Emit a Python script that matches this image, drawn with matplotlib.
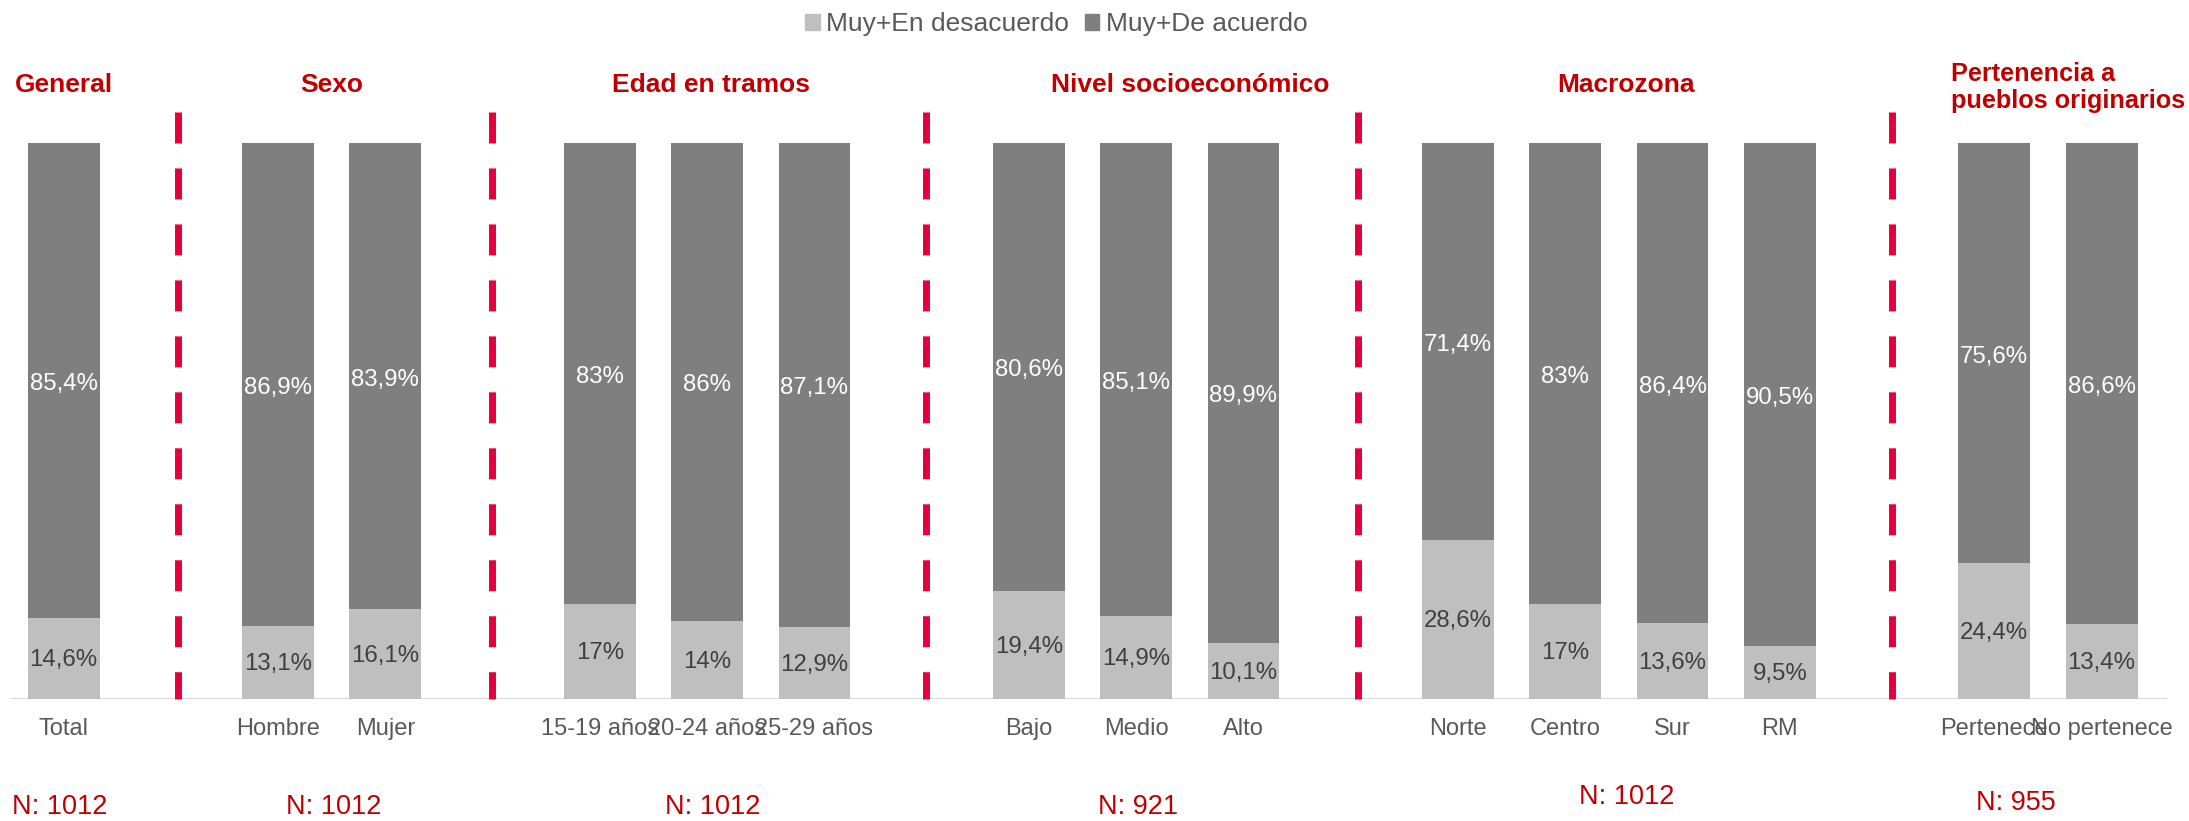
import matplotlib
matplotlib.use("Agg")
import matplotlib.pyplot as plt
from matplotlib.patches import Patch

plt.rcParams['font.family'] = ['Liberation Sans', 'DejaVu Sans']
plt.rcParams['lines.scale_dashes'] = False

# ---------------- data ----------------
groups = ["General", "Sexo", "Edad en tramos", "Nivel socioeconómico", "Macrozona",
          "Pertenencia a\npueblos originarios"]
group_sizes = [1, 2, 3, 3, 4, 2]
group_n = ["N: 1012", "N: 1012", "N: 1012", "N: 921", "N: 1012", "N: 955"]
categories = ["Total", "Hombre", "Mujer", "15-19 años", "20-24 años", "25-29 años",
              "Bajo", "Medio", "Alto", "Norte", "Centro", "Sur", "RM",
              "Pertenece", "No pertenece"]
desacuerdo = [14.6, 13.1, 16.1, 17, 14, 12.9, 19.4, 14.9, 10.1, 28.6, 17, 13.6, 9.5, 24.4, 13.4]
acuerdo = [85.4, 86.9, 83.9, 83, 86, 87.1, 80.6, 85.1, 89.9, 71.4, 83, 86.4, 90.5, 75.6, 86.6]
series_names = ["Muy+En desacuerdo", "Muy+De acuerdo"]

# ---------------- style ----------------
C_LIGHT = "#BFBFBF"
C_DARK = "#7F7F7F"
C_RED_TXT = "#C00000"
C_DIV = "#E4003B"
C_TXT = "#595959"
C_VAL_DARK = "#404040"

W, H, DPI = 2189, 821, 100
fig = plt.figure(figsize=(W / DPI, H / DPI), dpi=DPI)
ax = fig.add_axes([10 / W, 1 - 699 / H, 2157 / W, 556 / H])

# positions: one empty slot between groups
positions = []
divider_x = []
pos = 0
for gi, n in enumerate(group_sizes):
    positions.extend(range(pos, pos + n))
    pos += n
    if gi < len(group_sizes) - 1:
        divider_x.append(pos)
        pos += 1
div_adjust = [0.07, -0.01, 0.04, 0.07, 0.05]

bw = 0.67
ax.bar(positions, desacuerdo, width=bw, color=C_LIGHT, label=series_names[0])
ax.bar(positions, acuerdo, width=bw, bottom=desacuerdo, color=C_DARK, label=series_names[1])

def fmt(v):
    return f"{v:g}".replace(".", ",") + "%"

for x, d, a in zip(positions, desacuerdo, acuerdo):
    ax.text(x, d / 2 - 0.3, fmt(d), ha="center", va="center", fontsize=17.3, color=C_VAL_DARK)
    ax.text(x, d + a / 2 - 0.6, fmt(a), ha="center", va="center", fontsize=17.3, color="white")

for x, cat in zip(positions, categories):
    ax.text(x, -5.4, cat, ha="center", va="center", fontsize=17, color=C_TXT)

ax.set_xlim(-0.5, 19.61)
ax.set_ylim(0, 100)
ax.axhline(0, color="#D9D9D9", lw=1.5, zorder=0)

for dx, adj in zip(divider_x, div_adjust):
    ax.plot([dx + adj, dx + adj], [105.6, 0], color=C_DIV, lw=5,
            linestyle=(0, (22.3, 18)), clip_on=False, solid_capstyle="butt")

# headers and N labels
start = 0
header_x = []
for gi, n in enumerate(group_sizes):
    idx = positions[start:start + n]
    header_x.append((idx[0] + idx[-1]) / 2)
    start += n
header_off = [0, 0, 0.04, 0.5, 0.07, 0]
n_off = [-0.04, 0.02, 0.05, 0.02, 0.07, -0.3]
n_y = [-19.4, -19.4, -19.4, -19.4, -17.6, -18.7]
for gi, g in enumerate(groups):
    if "\n" in g:
        ax.text(17.6, 110.0, g, ha="left", va="center", fontsize=18.2, fontweight="bold",
                color=C_RED_TXT, linespacing=1.16, clip_on=False)
    else:
        ax.text(header_x[gi] + header_off[gi], 110.4, g, ha="center", va="center",
                fontsize=19, fontweight="bold", color=C_RED_TXT, clip_on=False)
    ax.text(header_x[gi] + n_off[gi], n_y[gi], group_n[gi],
            ha="center", va="center", fontsize=19.5, color=C_RED_TXT, clip_on=False)

for s in ax.spines.values():
    s.set_visible(False)
ax.set_xticks([])
ax.set_yticks([])

handles = [Patch(color=C_LIGHT), Patch(color=C_DARK)]
leg = fig.legend(handles, series_names, loc="center", bbox_to_anchor=(0.4826, 1 - 24 / H),
                 ncol=2, frameon=False, fontsize=19, handlelength=0.55, handleheight=0.55,
                 handletextpad=0.25, columnspacing=0.6, labelcolor=C_TXT)

fig.savefig("out.png", dpi=DPI)
